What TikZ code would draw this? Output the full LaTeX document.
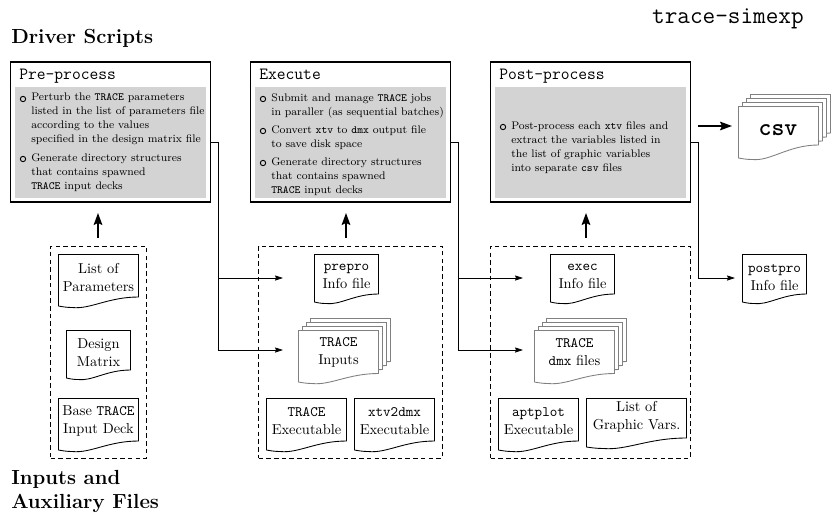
\documentclass[tikz,border=0pt]{standalone}
\usetikzlibrary{arrows.meta}
\newcommand{\docpath}[6]{% style, left, right, top, bottom-right, bottom-left
  \pgfmathsetmacro{\dw}{#3-#2}
  \draw[#1] (#2,#6) -- (#2,#4) -- (#3,#4) -- (#3,#5)
    .. controls ({#2+0.62*\dw},#5) and ({#2+0.4*\dw},{#6+3.5}) .. ({#2+0.17*\dw},{#6+1.5})
    .. controls ({#2+0.1*\dw},{#6+1.5}) and ({#2+0.04*\dw},{#6+0.6}) .. (#2,#6) -- cycle;
}
\newcommand{\bul}[3]{\node[bulletdot] (#1) at (#2,#3) {};}
\tikzset{
  x=0.75pt, y=-0.75pt,
  docline/.style={draw=black, fill=white, line width=0.65pt},
  stackline/.style={draw=black!50, fill=white, line width=0.65pt},
  doctext/.style={align=center, inner sep=0pt, font=\fontsize{10.8}{13.5}\selectfont},
  mainbox/.style={draw=black, fill=white, line width=0.85pt, minimum width=150pt, minimum height=105pt, inner sep=0pt},
  greybox/.style={fill=lightgreybg, inner sep=0pt, minimum width=143.5pt, minimum height=83.5pt},
  boxtitle/.style={anchor=base west, inner sep=0pt, font=\fontsize{12.8}{14}\selectfont\ttfamily},
  bodytext/.style={anchor=north west, align=left, inner sep=0pt, font=\fontsize{8.25}{10.5}\selectfont},
  bulletdot/.style={circle, draw=black, line width=0.7pt, minimum size=4pt, inner sep=0pt},
  groupbox/.style={draw=black, dashed, dash pattern=on 3.4pt off 2.4pt, line width=0.45pt},
  heading/.style={anchor=base west, inner sep=0pt, font=\fontsize{15.3}{18}\selectfont\bfseries},
  thinarrow/.style={draw=black, line width=0.55pt, -{Stealth[length=6pt,width=3.8pt,inset=0.8pt]}},
  fatarrow/.style={draw=black, line width=1.2pt, -{Stealth[length=9pt,width=6.5pt,inset=1.5pt]}, shorten >=0pt},
}
\definecolor{lightgreybg}{HTML}{D3D3D3}
\begin{document}
\begin{tikzpicture}
\useasboundingbox (0,0) rectangle (834,515);

% headings
\node[anchor=base east, inner sep=0pt, font=\fontsize{18.4}{20}\selectfont\ttfamily] (prog) at (804,23) {trace-simexp};
\node[heading] (hdriver) at (11,43) {Driver Scripts};
\node[heading] (hinputs) at (11,484) {Inputs and};
\node[heading] (hauxil) at (11,508) {Auxiliary Files};

% main boxes
\node[mainbox] (pre) at (110.5,132) {};
\node[mainbox] (exe) at (350.5,132) {};
\node[mainbox] (post) at (590.5,132) {};
\node[greybox] (pregrey) at (110.5,142.5) {};
\node[greybox] (exegrey) at (350.5,142.5) {};
\node[greybox] (postgrey) at (590.5,142.5) {};
\node[boxtitle] (pretitle) at (19,79) {Pre-process};
\node[boxtitle] (exetitle) at (259,79) {Execute};
\node[boxtitle] (posttitle) at (499,79) {Post-process};

% body text
\bul{b1}{23}{99}
\node[bodytext] (t1) at (31,93) {Perturb the \texttt{TRACE} parameters\\listed in the list of parameters file\\according to the values\\specified in the design matrix file};
\bul{b2}{23}{159}
\node[bodytext] (t2) at (31,153) {Generate directory structures\\that contains spawned\\\texttt{TRACE} input decks};
\bul{b3}{263}{99}
\node[bodytext] (t3) at (271,93) {Submit and manage \texttt{TRACE} jobs\\in paraller (as sequential batches)};
\bul{b4}{263}{131}
\node[bodytext] (t4) at (271,125) {Convert \texttt{xtv} to \texttt{dmx} output file\\to save disk space};
\bul{b5}{263}{163}
\node[bodytext] (t5) at (271,157) {Generate directory structures\\that contains spawned\\\texttt{TRACE} input decks};
\bul{b6}{503}{127}
\node[bodytext] (t6) at (511,121) {Post-process each \texttt{xtv} files and\\extract the variables listed in\\the list of graphic variables\\into separate \texttt{csv} files};

% group boxes
\node[groupbox, minimum width=72pt, minimum height=159pt, inner sep=0pt] (g1) at (98.5,352) {};
\node[groupbox, minimum width=138pt, minimum height=159pt, inner sep=0pt] (g2) at (350.5,352) {};
\node[groupbox, minimum width=150pt, minimum height=159pt, inner sep=0pt] (g3) at (590.5,352) {};

% documents, first group
\docpath{docline}{58.5}{138.5}{254.5}{297}{306}
\node[doctext] (d1) at (98.5,277) {List of\\Parameters};
\docpath{docline}{66.5}{130.5}{330.5}{370}{378}
\node[doctext] (d2) at (98.5,352.5) {Design\\Matrix};
\docpath{docline}{58.5}{138.5}{398.5}{441}{450}
\node[doctext] (d3) at (98.5,421) {Base \texttt{TRACE}\\Input Deck};

% second group
\docpath{docline}{314.5}{378.5}{254.5}{294}{302}
\node[doctext] (d4) at (346.5,276.5) {\texttt{prepro}\\Info file};
\foreach \k in {3,2,1,0}{
  \docpath{stackline}{298.5+4*\k}{378.5+4*\k}{330.5-4*\k}{373.5-4*\k}{382-4*\k}
}
\node[doctext] (d5) at (338.5,352.5) {\texttt{TRACE}\\Inputs};
\docpath{docline}{266.5}{346.5}{398.5}{441}{450}
\node[doctext] (d6) at (306.5,421) {\texttt{TRACE}\\Executable};
\docpath{docline}{354.5}{434.5}{398.5}{441}{450}
\node[doctext] (d7) at (394.5,421) {\texttt{xtv2dmx}\\Executable};

% third group
\docpath{docline}{550.5}{614.5}{254.5}{294}{302}
\node[doctext] (d8) at (582.5,276.5) {\texttt{exec}\\Info file};
\foreach \k in {3,2,1,0}{
  \docpath{stackline}{534.5+4*\k}{614.5+4*\k}{330.5-4*\k}{373.5-4*\k}{382-4*\k}
}
\node[doctext] (d9) at (574.5,352.5) {\texttt{TRACE}\\\texttt{dmx} files};
\docpath{docline}{498.5}{578.5}{398.5}{441}{450}
\node[doctext] (d10) at (538.5,421) {\texttt{aptplot}\\Executable};
\docpath{docline}{586.5}{686.5}{398.5}{438}{447}
\node[doctext] (d11) at (636.5,417) {List of\\Graphic Vars.};

% outputs
\docpath{docline}{742.5}{806.5}{254.5}{294}{302}
\node[doctext] (d12) at (774.5,277.5) {\texttt{postpro}\\Info file};
\foreach \k in {3,2,1,0}{
  \docpath{stackline}{738.5+4*\k}{818.5+4*\k}{106.5-4*\k}{145-4*\k}{158-4*\k}
}
\node[anchor=base, inner sep=0pt, font=\fontsize{18.4}{20}\selectfont\ttfamily\bfseries] (csv) at (778,135) {csv};

% connector end points
\coordinate (a1) at (98,238);  \coordinate (a1e) at (98,213);
\coordinate (a2) at (346,238); \coordinate (a2e) at (346,213);
\coordinate (a3) at (586,238); \coordinate (a3e) at (586,213);
\coordinate (a4) at (698,126); \coordinate (a4e) at (732,126);
\coordinate (c1) at (210.5,142); \coordinate (c1k) at (218,142);
\coordinate (c2) at (450.5,142); \coordinate (c2k) at (458,142);
\coordinate (c3) at (690.5,142); \coordinate (c3k) at (698,142);
\coordinate (e1) at (283,278); \coordinate (e2) at (283,350);
\coordinate (e3) at (523,278); \coordinate (e4) at (523,350);
\coordinate (e5) at (735,278);

\draw[fatarrow] (a1) -- (a1e);
\draw[fatarrow] (a2) -- (a2e);
\draw[fatarrow] (a3) -- (a3e);
\draw[fatarrow] (a4) -- (a4e);

\draw[thinarrow] (c1) -- (c1k) |- (e1);
\draw[thinarrow] (c1k) |- (e2);
\draw[thinarrow] (c2) -- (c2k) |- (e3);
\draw[thinarrow] (c2k) |- (e4);
\draw[thinarrow] (c3) -- (c3k) |- (e5);
\end{tikzpicture}
\end{document}
